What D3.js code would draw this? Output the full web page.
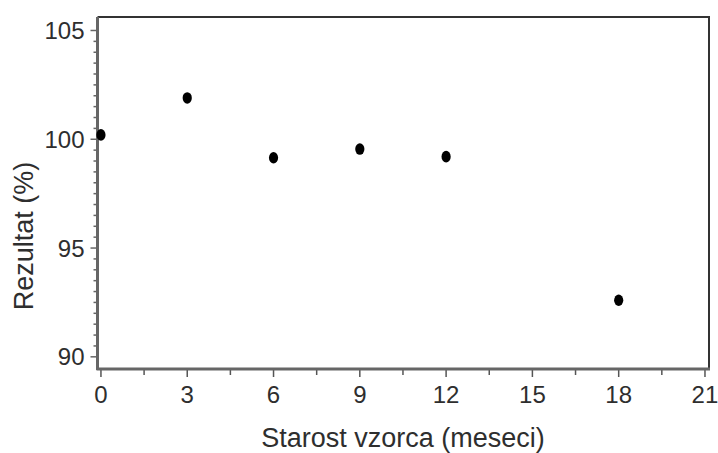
<!DOCTYPE html>
<html>
<head>
<meta charset="utf-8">
<script src="https://cdn.jsdelivr.net/npm/d3@7"></script>
<style>
  body { margin: 0; background: #fff; }
  svg { display: block; }
  text { font-family: "Liberation Sans", Arial, sans-serif; fill: #2e2e2e; }
</style>
</head>
<body>
<div id="chart"></div>
<script>
// Data
var months = [0, 3, 6, 9, 12, 18];
var results = [100.2, 101.9, 99.15, 99.55, 99.2, 92.6];
var x_ticks = [0, 3, 6, 9, 12, 15, 18, 21];
var y_ticks = [90, 95, 100, 105];

// SVG Element
var chart_width = 718;
var chart_height = 453;
var svg = d3.select('#chart')
    .append('svg')
    .attr('width', chart_width)
    .attr('height', chart_height);

var plot_left = 97.5, plot_right = 709, plot_top = 17, plot_bottom = 369;

// scales
var x_scale = d3.scaleLinear()
    .domain([-0.12, 21.14])
    .range([plot_left, plot_right]);

var y_scale = d3.scaleLinear()
    .domain([89.44, 105.62])
    .range([plot_bottom, plot_top]);

// top and right border
svg.append('path')
    .attr('d', 'M' + plot_left + ',' + plot_top + 'H' + plot_right + 'V' + plot_bottom)
    .attr('fill', 'none')
    .attr('stroke', '#333')
    .attr('stroke-width', 2);

// x axis
var x_axis = svg.append('g')
    .attr('transform', 'translate(0,' + plot_bottom + ')');

x_axis.selectAll('line.minor')
    .data(d3.range(1.5, 21, 3))
    .enter()
    .append('line')
    .attr('class', 'minor')
    .attr('x1', function (d) { return x_scale(d); })
    .attr('x2', function (d) { return x_scale(d); })
    .attr('y1', 0)
    .attr('y2', 6)
    .attr('stroke', '#555')
    .attr('stroke-width', 1.5);

x_axis.selectAll('line.major')
    .data(x_ticks)
    .enter()
    .append('line')
    .attr('class', 'major')
    .attr('x1', function (d) { return x_scale(d); })
    .attr('x2', function (d) { return x_scale(d); })
    .attr('y1', 0)
    .attr('y2', 8)
    .attr('stroke', '#555')
    .attr('stroke-width', 1.5);

x_axis.selectAll('text')
    .data(x_ticks)
    .enter()
    .append('text')
    .text(function (d) { return d; })
    .attr('x', function (d) { return x_scale(d); })
    .attr('y', 34)
    .attr('font-size', 24)
    .attr('text-anchor', 'middle');

x_axis.append('line')
    .attr('x1', plot_left - 1)
    .attr('x2', plot_right + 1)
    .attr('stroke', '#666')
    .attr('stroke-width', 3);

// y axis
var y_axis = svg.append('g')
    .attr('transform', 'translate(' + plot_left + ',0)');

y_axis.selectAll('line.minor')
    .data(d3.range(90, 105.5, 0.5))
    .enter()
    .append('line')
    .attr('class', 'minor')
    .attr('y1', function (d) { return y_scale(d); })
    .attr('y2', function (d) { return y_scale(d); })
    .attr('x1', 0)
    .attr('x2', function (d) { return d % 5 === 0 ? -7 : -4; })
    .attr('stroke', '#666')
    .attr('stroke-width', 1.5);

y_axis.selectAll('text')
    .data(y_ticks)
    .enter()
    .append('text')
    .text(function (d) { return d; })
    .attr('x', -13)
    .attr('y', function (d) { return y_scale(d) + 8.5; })
    .attr('font-size', 24)
    .attr('text-anchor', 'end');

y_axis.append('line')
    .attr('y1', plot_top)
    .attr('y2', plot_bottom + 1)
    .attr('stroke', '#666')
    .attr('stroke-width', 3);

// points
svg.selectAll('ellipse')
    .data(months)
    .enter()
    .append('ellipse')
    .attr('cx', function (d) { return x_scale(d); })
    .attr('cy', function (d, i) { return y_scale(results[i]); })
    .attr('rx', 4.6)
    .attr('ry', 5.8)
    .attr('fill', '#000');

// axis labels
svg.append('text')
    .text('Starost vzorca (meseci)')
    .attr('x', 403)
    .attr('y', 447)
    .attr('font-size', 27)
    .attr('text-anchor', 'middle');

svg.append('text')
    .text('Rezultat (%)')
    .attr('transform', 'translate(33,236) rotate(-90)')
    .attr('font-size', 27)
    .attr('text-anchor', 'middle');
</script>
</body>
</html>
